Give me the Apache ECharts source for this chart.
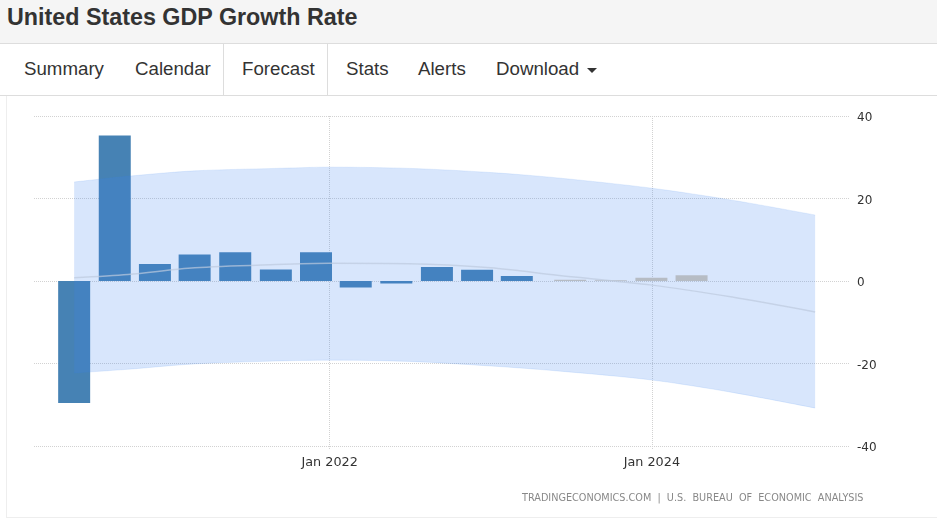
<!DOCTYPE html>
<html>
<head>
<meta charset="utf-8">
<title>United States GDP Growth Rate</title>
<script src="https://cdn.jsdelivr.net/npm/echarts@6/dist/echarts.min.js"></script>
<style>
  html, body { margin: 0; padding: 0; background: #fff; overflow: hidden; }
  body { width: 937px; height: 520px; position: relative; font-family: "Liberation Sans", Arial, sans-serif; color: #333; }
  .head { height: 43px; background: #f5f5f5; border-bottom: 1px solid #ddd; font-size: 23.3px; font-weight: bold; line-height: 35px; padding-left: 7px; }
  .tabs { position: absolute; left: 0; top: 44px; width: 937px; height: 51px; border-bottom: 1px solid #ddd; }
  .tabs span { position: absolute; top: 0; height: 51px; line-height: 50px; font-size: 18.7px; }
  .tabs .on { left: 223px; width: 103px; border-left: 1px solid #ddd; border-right: 1px solid #ddd; text-indent: 18px; }
  .caret { display: inline-block; margin-left: 3px; vertical-align: middle; border-top: 5px solid #333; border-left: 5px solid transparent; border-right: 5px solid transparent; }
  #box { position: absolute; left: 6px; top: 96px; width: 931px; height: 421px; border-left: 1px solid #eee; border-bottom: 1px solid #eee; }
  #main { position: absolute; left: 0; top: 96px; width: 937px; height: 424px; }
</style>
</head>
<body>
<div class="head">United States GDP Growth Rate</div>
<div class="tabs">
  <span style="left:24px">Summary</span>
  <span style="left:135px">Calendar</span>
  <span class="on">Forecast</span>
  <span style="left:346px">Stats</span>
  <span style="left:418px">Alerts</span>
  <span style="left:496px">Download <i class="caret"></i></span>
</div>
<div id="box"></div>
<div id="main"></div>
<script>
// quarterly growth, actual then forecast
var actualDates = ['2020-06-01', '2020-09-01', '2020-12-01', '2021-03-01', '2021-06-01', '2021-09-01', '2021-12-01', '2022-03-01', '2022-06-01', '2022-09-01', '2022-12-01', '2023-03-01'];
var actualValues = [-29.6, 35.3, 4.1, 6.4, 7.0, 2.8, 7.0, -1.6, -0.6, 3.4, 2.7, 1.2];
var forecastDates = ['2023-06-30', '2023-09-30', '2023-12-31', '2024-03-31'];
var forecastValues = [0.3, 0.2, 0.8, 1.4];

var bandDates = ['2020-06-01', '2020-10-01', '2021-03-01', '2021-09-01', '2022-01-01', '2022-07-01', '2023-01-01', '2023-06-01', '2024-01-01', '2024-07-01', '2025-01-05'];
var bandUpper = [24.0, 25.4, 26.7, 27.3, 27.6, 27.3, 26.3, 25.0, 22.5, 19.6, 16.0];
var bandLower = [-22.3, -21.4, -20.1, -19.4, -19.2, -19.5, -20.6, -21.8, -24.0, -27.0, -30.8];
var bandMiddle = [0.8, 1.6, 3.2, 4.0, 4.3, 4.2, 3.2, 1.4, -1.0, -3.9, -7.5];

var xTickDates = ['2022-01-01', '2024-01-01'];
var sourceText = 'TRADINGECONOMICS.COM  |  U.S.  BUREAU  OF  ECONOMIC  ANALYSIS';

function ms(d) { return Date.parse(d); }
function pairs(dates, values) {
  return dates.map(function (d, i) { return [d, values[i]]; });
}
function barPairs(dates, values) {
  return dates.map(function (d, i) { return [ms(d), values[i]]; });
}
var bandWidth = bandUpper.map(function (v, i) { return v - bandLower[i]; });
var xTicks = xTickDates.map(ms);
var xMin = ms('2020-03-02');
var xMax = ms('2025-03-25');
var grid = '#d2d2d2';
var edge = 'rgba(60,130,240,0.12)';

var myChart = echarts.init(document.getElementById('main'));
myChart.setOption({
  animation: false,
  useUTC: true,
  textStyle: { fontFamily: 'DejaVu Sans' },
  title: {
    text: sourceText,
    left: 522,
    top: 397,
    padding: 0,
    textStyle: { fontFamily: 'DejaVu Sans', fontSize: 9.7, fontWeight: 'normal', color: '#888' }
  },
  grid: { left: 34, top: 20, width: 816, height: 330 },
  xAxis: [
    // lines sit on this one, the stack needs a time axis
    { type: 'time', min: xMin, max: xMax, show: false },
    // same span, bars plus the two january ticks and lines
    {
      type: 'value',
      min: xMin,
      max: xMax,
      position: 'bottom',
      axisLine: { show: false },
      axisTick: { show: true, customValues: xTicks, length: 4, lineStyle: { color: grid, type: 'dotted' } },
      splitLine: { show: true, lineStyle: { color: grid, type: 'dotted', width: 1 } },
      axisLabel: {
        customValues: xTicks,
        margin: 10,
        fontSize: 12.8,
        color: '#333',
        formatter: function (v) { return echarts.time.format(v, '{MMM} {yyyy}', true); }
      }
    }
  ],
  yAxis: {
    type: 'value',
    position: 'right',
    min: -40,
    max: 40,
    interval: 20,
    axisLine: { show: false },
    axisTick: { show: false },
    splitLine: { lineStyle: { color: grid, type: 'dotted', width: 1 } },
    axisLabel: { margin: 7, fontSize: 12, color: '#333', verticalAlign: 'top', lineHeight: 4 }
  },
  series: [
    { name: 'Actual', type: 'bar', xAxisIndex: 1, barWidth: 32, barGap: '-100%', z: 2, itemStyle: { color: '#4682b4' }, data: barPairs(actualDates, actualValues) },
    { name: 'Lower', type: 'line', stack: 'band', stackStrategy: 'all', smooth: 0.3, symbol: 'none', z: 3, lineStyle: { color: edge, width: 1 }, data: pairs(bandDates, bandLower) },
    { name: 'Band', type: 'line', stack: 'band', stackStrategy: 'all', smooth: 0.3, symbol: 'none', z: 3, lineStyle: { color: edge, width: 1 }, areaStyle: { color: 'rgb(60,130,240)', opacity: 0.2 }, data: pairs(bandDates, bandWidth) },
    { name: 'Forecast', type: 'bar', xAxisIndex: 1, barWidth: 32, barGap: '-100%', z: 4, itemStyle: { color: '#b6bcc4' }, data: barPairs(forecastDates, forecastValues) },
    { name: 'Trend', type: 'line', smooth: 0.3, symbol: 'none', z: 5, lineStyle: { color: 'rgba(190,203,222,0.7)', width: 1.5 }, data: pairs(bandDates, bandMiddle) }
  ]
});
</script>
</body>
</html>
